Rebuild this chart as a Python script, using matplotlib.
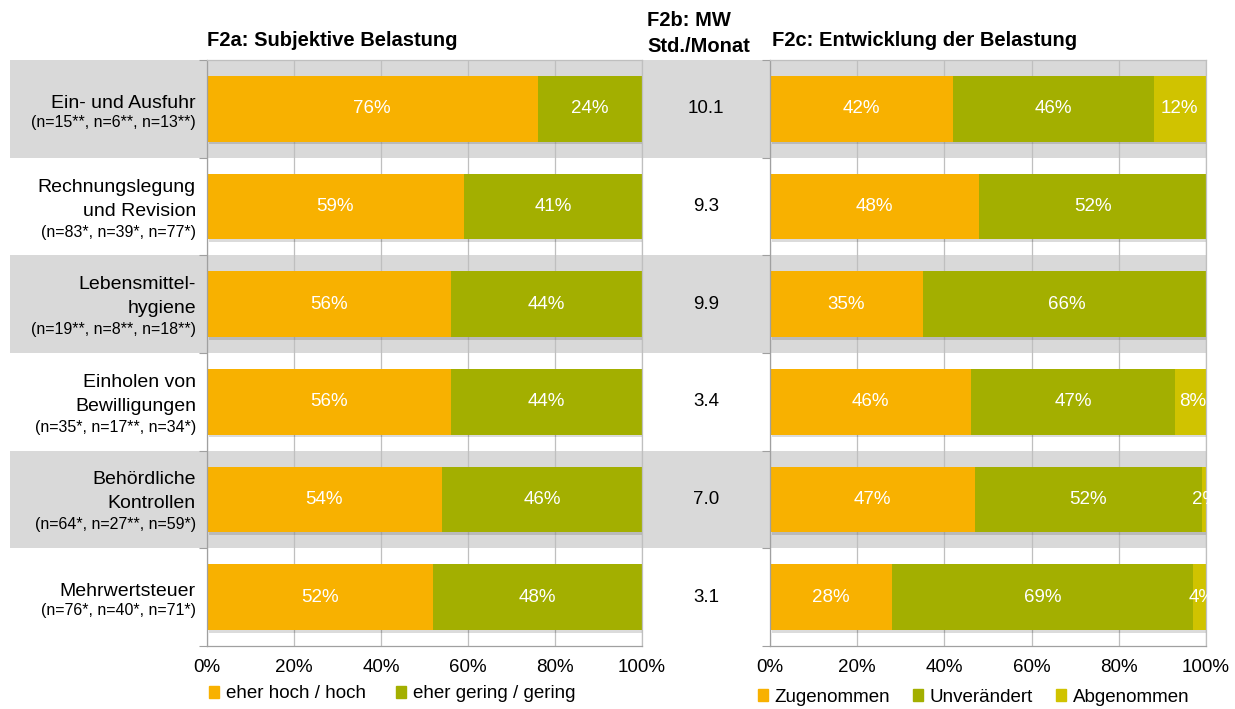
import numpy as np
import matplotlib.pyplot as plt
import matplotlib.patheffects as pe
from matplotlib.patches import Patch
from matplotlib.transforms import blended_transform_factory

plt.rcParams['font.family'] = ['Liberation Sans', 'DejaVu Sans']

# Daten
themen = [["Ein- und Ausfuhr"],
          ["Rechnungslegung", "und Revision"],
          ["Lebensmittel-", "hygiene"],
          ["Einholen von", "Bewilligungen"],
          ["Behördliche", "Kontrollen"],
          ["Mehrwertsteuer"]]
n_text = ["(n=15**, n=6**, n=13**)",
          "(n=83*, n=39*, n=77*)",
          "(n=19**, n=8**, n=18**)",
          "(n=35*, n=17**, n=34*)",
          "(n=64*, n=27**, n=59*)",
          "(n=76*, n=40*, n=71*)"]

hoch = [76, 59, 56, 56, 54, 52]
gering = [24, 41, 44, 44, 46, 48]
mw_std = ["10.1", "9.3", "9.9", "3.4", "7.0", "3.1"]
zugenommen = [42, 48, 35, 46, 47, 28]
unveraendert = [46, 52, 66, 47, 52, 69]
abgenommen = [12, 0, 0, 8, 2, 4]

c_orange = "#F8B100"
c_gruen = "#A3AF00"
c_gelb = "#D0C300"
c_grau = "#D9D9D9"
c_grid = "#BFBFBF"
c_spine = "#A0A0A0"

W, H = 1235, 709
fig = plt.figure(figsize=(W / 100, H / 100), dpi=100)


def px_rect(x0, x1, y_top, y_bot):
    return [x0 / W, 1 - y_bot / H, (x1 - x0) / W, (y_bot - y_top) / H]


ax1 = fig.add_axes(px_rect(207, 642, 60, 646))
ax2 = fig.add_axes(px_rect(770, 1206, 60, 646))
axm = fig.add_axes(px_rect(642, 770, 60, 646))

y = np.arange(len(hoch))
shadow = [pe.SimplePatchShadow(offset=(1.5, -2), shadow_rgbFace="k", alpha=0.14), pe.Normal()]


def style(ax):
    ax.set_facecolor("none")
    ax.set_xlim(0, 1)
    ax.set_ylim(5.5, -0.5)
    ax.set_xticks(np.arange(0, 1.01, 0.2))
    ax.set_xticklabels([f"{int(v * 100)}%" for v in np.arange(0, 1.01, 0.2)], fontsize=13.5)
    ax.tick_params(axis="x", length=0, pad=9, colors="#000000")
    ax.set_yticks([])
    ax.set_yticks(np.arange(-0.5, 6, 1), minor=True)
    ax.tick_params(axis="y", which="minor", length=6, color=c_spine, width=0.8)
    ax.grid(axis="x", color=c_grid, lw=0.9, zorder=1)
    ax.set_axisbelow(True)
    for s in ax.spines.values():
        s.set_color(c_grid)
        s.set_linewidth(0.9)
    ax.spines["left"].set_color(c_spine)
    ax.spines["bottom"].set_color(c_spine)


style(ax1)
style(ax2)
axm.axis("off")
axm.set_xlim(0, 1)
axm.set_ylim(5.5, -0.5)

# graue Hinterlegung jeder zweiten Zeile
for i in range(0, 6, 2):
    band = ax1.axhspan(i - 0.5, i + 0.5, xmin=-197 / 435, xmax=999 / 435,
                       color=c_grau, lw=0, zorder=0)
    band.set_clip_on(False)


def stacked(ax, serien, farben):
    left = np.zeros(len(y))
    for werte, farbe in zip(serien, farben):
        w = np.array(werte) / 100
        bars = ax.barh(y, w, left=left, height=0.67, color=farbe, zorder=2)
        for b in bars:
            b.set_path_effects(shadow)
        for yi, l, wi, v in zip(y, left, w, werte):
            if v > 0:
                ax.text(l + wi / 2, yi, f"{v}%", ha="center", va="center", color="white",
                        fontsize=13.5, zorder=3)
        left = left + w


stacked(ax1, [hoch, gering], [c_orange, c_gruen])
stacked(ax2, [zugenommen, unveraendert, abgenommen], [c_orange, c_gruen, c_gelb])

# Mittelwerte
for yi, v in zip(y, mw_std):
    axm.text(0.5, yi, v, ha="center", va="center", fontsize=13.5)

# Beschriftungen links
tr = blended_transform_factory(ax1.transAxes, ax1.transData)
for yi, zeilen, nt in zip(y, themen, n_text):
    if len(zeilen) == 1:
        offs = [1]
        n_off = -18
    else:
        offs = [15, -9]
        n_off = -30
    for z, o in zip(zeilen, offs):
        ax1.annotate(z, (-0.0253, yi), xycoords=tr, xytext=(0, o), textcoords="offset pixels",
                     ha="right", va="baseline", fontsize=14, annotation_clip=False)
    ax1.annotate(nt, (-0.0253, yi), xycoords=tr, xytext=(0, n_off), textcoords="offset pixels",
                 ha="right", va="baseline", fontsize=11.5, annotation_clip=False)

# Titel
fig.text(207 / W, 1 - 40 / H, "F2a: Subjektive Belastung", fontsize=14.5, fontweight="bold",
         ha="left", va="center")
fig.text(647 / W, 1 - 21 / H, "F2b: MW", fontsize=14.5, fontweight="bold", ha="left", va="center")
fig.text(647 / W, 1 - 46 / H, "Std./Monat", fontsize=14.5, fontweight="bold", ha="left", va="center")
fig.text(772 / W, 1 - 40 / H, "F2c: Entwicklung der Belastung", fontsize=14.5, fontweight="bold",
         ha="left", va="center")

# Legenden
h1 = [Patch(color=c_orange), Patch(color=c_gruen)]
fig.legend(h1, ["eher hoch / hoch", "eher gering / gering"], loc="center left",
           bbox_to_anchor=(209 / W, 1 - 694 / H), ncol=2, frameon=False, fontsize=13.5,
           handlelength=0.55, handleheight=0.55, handletextpad=0.35, columnspacing=1.6,
           borderpad=0, borderaxespad=0)
h2 = [Patch(color=c_orange), Patch(color=c_gruen), Patch(color=c_gelb)]
fig.legend(h2, ["Zugenommen", "Unverändert", "Abgenommen"], loc="center left",
           bbox_to_anchor=(758 / W, 1 - 697 / H), ncol=3, frameon=False, fontsize=13.5,
           handlelength=0.55, handleheight=0.55, handletextpad=0.35, columnspacing=1.2,
           borderpad=0, borderaxespad=0)

fig.savefig("out.png", dpi=100)
